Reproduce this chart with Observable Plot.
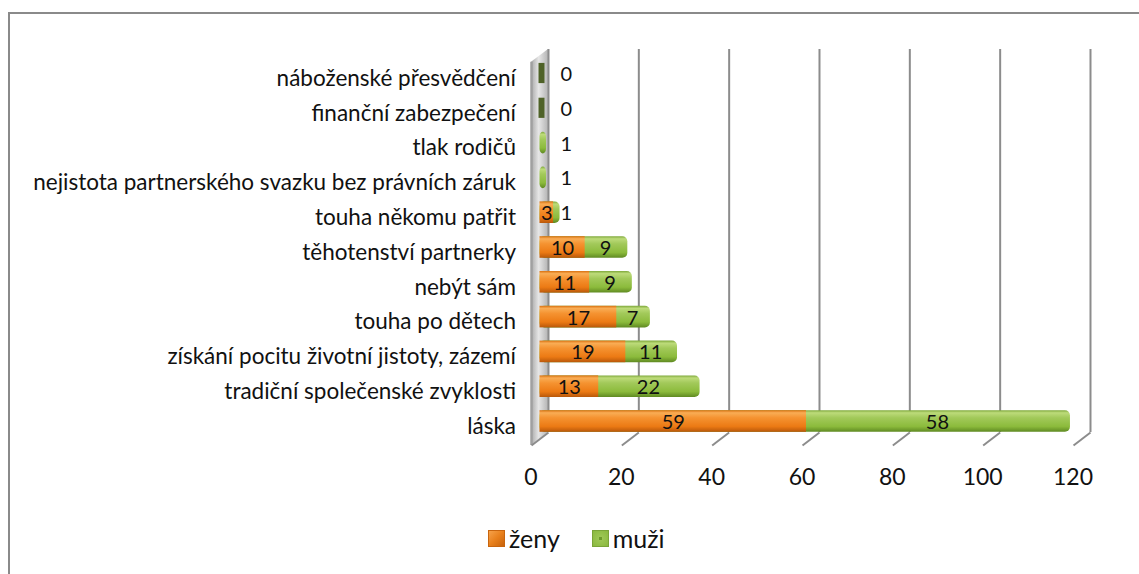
<!DOCTYPE html>
<html>
<head>
<meta charset="utf-8">
<script src="https://cdn.jsdelivr.net/npm/d3@7"></script>
<script src="https://cdn.jsdelivr.net/npm/@observablehq/plot@0.6"></script>
<style>
  html, body { margin: 0; padding: 0; background: #fff; }
  body { width: 1139px; height: 574px; overflow: hidden; position: relative; font-family: Lato, "Open Sans", sans-serif; }
  #frame { position: absolute; left: 8px; top: 12px; width: 1200px; height: 700px; border: 2px solid #8a8a8a; box-sizing: border-box; }
  #chart { position: absolute; left: 0; top: 0; }
  #legend { position: absolute; top: 523px; left: 488px; display: flex; align-items: center; font-size: 25px; color: #111; }
  .sw { width: 17px; height: 17px; display: inline-block; margin-right: 4px; box-sizing: border-box; }
  .sw.o { background: linear-gradient(135deg, #f6a24a 0%, #e8801c 50%, #c8630c 100%); border: 1px solid #c8650e; }
  .sw.g { background: radial-gradient(circle, #6d9a2a 0 1.5px, #9cc653 2px, #8ab83e 100%); border: 1px solid #7aa437; }
  .item { display: flex; align-items: center; margin-right: 32px; }
</style>
</head>
<body>
<div id="frame"></div>
<div id="chart"></div>
<div id="legend"></div>
<script>
// ---- data ----
const categories = [
  "láska",
  "tradiční společenské zvyklosti",
  "získání pocitu životní jistoty, zázemí",
  "touha po dětech",
  "nebýt sám",
  "těhotenství partnerky",
  "touha někomu patřit",
  "nejistota partnerského svazku bez právních záruk",
  "tlak rodičů",
  "finanční zabezpečení",
  "náboženské přesvědčení"
];
const zeny = [59, 13, 19, 17, 11, 10, 3, 0, 0, 0, 0];
const muzi = [58, 22, 11, 7, 9, 9, 1, 1, 1, 0, 0];
const xTicks = [0, 20, 40, 60, 80, 100, 120];
const seriesNames = ["ženy", "muži"];

const rows = categories.map((c, i) => ({cat: c, i, zeny: zeny[i], muzi: muzi[i], total: zeny[i] + muzi[i]}));

// 3D geometry helpers (in data units)
const depth = 1.88;
const floorFront = -0.69, floorBack = -0.316, wallTop = 10.69, wallFrontTop = 10.32;
const half = 0.31;

const wall = [
  {x: -depth, y1: floorFront, y2: wallFrontTop},
  {x: depth, y1: floorBack, y2: wallTop}
];

const chart = Plot.plot({
  width: 1139,
  height: 520,
  marginLeft: 0, marginRight: 0, marginTop: 0, marginBottom: 0,
  style: {background: "transparent", fontFamily: "Lato, 'Open Sans', sans-serif", color: "#111"},
  x: {domain: [0, 120], range: [539.5, 1081.5], axis: null},
  y: {domain: [-2, 11], range: [490.6, 38.2], axis: null},
  marks: [
    // left wall
    Plot.areaY(wall, {x: "x", y1: "y1", y2: "y2", fill: "url(#gWall)"}),
    Plot.ruleX([-depth], {x: d => d, y1: floorFront, y2: wallFrontTop, stroke: "#a0a0a0", strokeWidth: 2.5}),
    Plot.ruleX([depth], {x: d => d, y1: floorBack, y2: wallTop, stroke: "#8c8c8c", strokeWidth: 2}),
    // gridlines on back wall
    Plot.ruleX(xTicks.filter(v => v > 0), {x: v => v + depth, y1: floorBack, y2: wallTop, stroke: "#8c8c8c", strokeWidth: 2}),
    // floor tick lines
    Plot.link(xTicks, {x1: v => v - depth, x2: v => v + depth, y1: floorFront, y2: floorBack, stroke: "#8c8c8c", strokeWidth: 2}),
    // bars: muži (full length, rounded end), ženy on top
    Plot.rectX(rows.filter(d => d.total > 0), {x1: 0, x2: "total", y1: d => d.i - half, y2: d => d.i + half, fill: "url(#gGreen)", rx: 5, insetRight: -2}),
    Plot.rectX(rows.filter(d => d.zeny > 0), {x1: 0, x2: "zeny", y1: d => d.i - half, y2: d => d.i + half, fill: "url(#gOrange)"}),
    // zero-length stubs
    Plot.ruleX(rows.filter(d => d.total === 0), {x: 0, y1: d => d.i - 0.29, y2: d => d.i + 0.29, dx: 1.5, stroke: "#4f6228", strokeWidth: 6}),
    // value labels
    Plot.text(rows.filter(d => d.zeny > 0), {x: d => d.zeny / 2, y: "i", text: d => String(d.zeny), fontSize: 20, dy: 1, fill: "#111"}),
    Plot.text(rows, {x: d => d.muzi >= 3 ? d.zeny + d.muzi / 2 : 5.8, y: "i", text: d => String(d.muzi), fontSize: 20, dy: 1, fill: "#111"}),
    // category labels
    Plot.text(rows, {x: 0, y: "i", text: "cat", dx: -24, dy: 5, textAnchor: "end", fontSize: 22.5, fill: "#111"}),
    // x tick labels
    Plot.text(xTicks, {x: d => d, y: -1.6, dx: -9, text: d => String(d), fontSize: 23, fill: "#111"})
  ]
});

// gradients
const svg = d3.select(chart);
const defs = svg.insert("defs", ":first-child");
function vgrad(id, stops) {
  const g = defs.append("linearGradient").attr("id", id).attr("x1", 0).attr("y1", 0).attr("x2", 0).attr("y2", 1);
  stops.forEach(([o, c]) => g.append("stop").attr("offset", o).attr("stop-color", c));
}
vgrad("gOrange", [[0, "#d9700f"], [0.12, "#f9ad55"], [0.35, "#f59331"], [0.75, "#ec7a14"], [1, "#b9580a"]]);
vgrad("gGreen", [[0, "#7ea83a"], [0.12, "#bddb7a"], [0.35, "#a2c95a"], [0.75, "#8cbb3c"], [1, "#5f8a22"]]);
const gw = defs.append("linearGradient").attr("id", "gWall").attr("x1", 0).attr("y1", 0).attr("x2", 1).attr("y2", 0);
[[0, "#a8a8a8"], [0.45, "#e6e6e6"], [1, "#b4b4b4"]].forEach(([o, c]) => gw.append("stop").attr("offset", o).attr("stop-color", c));

document.getElementById("chart").appendChild(chart);

// legend
const legend = document.getElementById("legend");
seriesNames.forEach((name, k) => {
  const item = document.createElement("div");
  item.className = "item";
  const sw = document.createElement("span");
  sw.className = "sw " + (k === 0 ? "o" : "g");
  const t = document.createElement("span");
  t.textContent = name;
  item.appendChild(sw); item.appendChild(t);
  legend.appendChild(item);
});
</script>
</body>
</html>
